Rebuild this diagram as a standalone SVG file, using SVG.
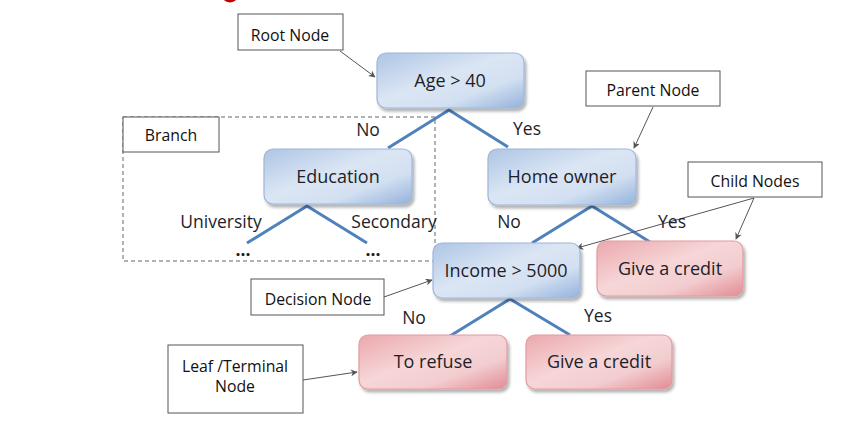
<svg xmlns="http://www.w3.org/2000/svg" width="862" height="428" viewBox="0 0 862 428">
<style>
text{font-family:"Open Sans","Noto Sans","Liberation Sans",sans-serif;fill:#1e1e28}
.nt{font-size:18px;text-anchor:middle}
.lb{font-size:15.8px;text-anchor:middle;fill:#111}
.el{font-size:17.5px;text-anchor:middle}
.lbox{fill:#fff;stroke:#555;stroke-width:1}
.blue{fill:url(#gb);stroke:#9db6d8;stroke-width:1.2}
.pink{fill:url(#gp);stroke:#e39aa0;stroke-width:1.2}
.edge{stroke:#4f81bd;stroke-width:3;fill:none}
.ptr{stroke:#555;stroke-width:1;fill:none;marker-end:url(#ah)}
</style>
<defs>
<linearGradient id="gb" x1="0" y1="0" x2="1" y2="1">
<stop offset="0" stop-color="#aec5e5"/>
<stop offset="0.45" stop-color="#dbe6f4"/>
<stop offset="0.7" stop-color="#d3e0f1"/>
<stop offset="1" stop-color="#93b2dc"/>
</linearGradient>
<linearGradient id="gp" x1="0" y1="0" x2="1" y2="1">
<stop offset="0" stop-color="#eba8ad"/>
<stop offset="0.45" stop-color="#f6d6d8"/>
<stop offset="0.7" stop-color="#f2cdd0"/>
<stop offset="1" stop-color="#e28b92"/>
</linearGradient>
<filter id="sh" x="-10%" y="-10%" width="125%" height="140%">
<feDropShadow dx="2" dy="3" stdDeviation="1.5" flood-color="#000" flood-opacity="0.3"/>
</filter>
<marker id="ah" viewBox="0 0 10 10" refX="9" refY="5" markerWidth="7" markerHeight="7" orient="auto" markerUnits="userSpaceOnUse">
<path d="M0,0 L10,5 L0,10 L3,5 z" fill="#555"/>
</marker>
</defs>
<rect width="862" height="428" fill="#fff"/>
<ellipse cx="230" cy="-9" rx="10" ry="11.5" fill="#c00000"/>

<rect id="branch-area" x="123" y="117" width="312" height="144" fill="none" stroke="#666" stroke-width="1" stroke-dasharray="4,3"/>

<g id="connectors">
<path class="edge" d="M388,148 L449,110 L508,147"/>
<path class="edge" d="M247,243 L307,206 L367,243"/>
<path class="edge" d="M532,243 L592,206 L650,242"/>
<path class="edge" d="M450,336 L510,299 L570,335"/>
<line class="ptr" x1="340" y1="51" x2="375" y2="77"/>
<line class="ptr" x1="653" y1="107" x2="634" y2="148"/>
<line class="ptr" x1="754" y1="198" x2="577" y2="248"/>
<line class="ptr" x1="754" y1="198" x2="736" y2="239"/>
<line class="ptr" x1="384" y1="297" x2="432" y2="280"/>
<line class="ptr" x1="303" y1="380" x2="357" y2="372"/>
</g>

<g id="edge-labels">
<text class="el" x="368" y="136">No</text>
<text class="el" x="527" y="135">Yes</text>
<text class="el" x="221" y="228">University</text>
<text class="el" x="394" y="228">Secondary</text>
<text class="el" x="243" y="256" font-weight="bold">...</text>
<text class="el" x="373" y="256" font-weight="bold">...</text>
<text class="el" x="509" y="228">No</text>
<text class="el" x="672" y="228">Yes</text>
<text class="el" x="414" y="324">No</text>
<text class="el" x="598" y="322">Yes</text>
</g>

<g id="node-age"><rect class="blue" filter="url(#sh)" x="377" y="53" width="147" height="55" rx="9"/><text class="nt" x="450" y="87">Age &gt; 40</text></g>
<g id="node-education"><rect class="blue" filter="url(#sh)" x="264" y="149" width="148" height="55" rx="9"/><text class="nt" x="338" y="183">Education</text></g>
<g id="node-homeowner"><rect class="blue" filter="url(#sh)" x="488" y="149" width="148" height="56" rx="9"/><text class="nt" x="562" y="183">Home owner</text></g>
<g id="node-income"><rect class="blue" filter="url(#sh)" x="433" y="243" width="147" height="55" rx="9"/><text class="nt" x="506" y="277">Income &gt; 5000</text></g>
<g id="node-credit1"><rect class="pink" filter="url(#sh)" x="597" y="241" width="146" height="55" rx="9"/><text class="nt" x="670" y="275">Give a credit</text></g>
<g id="node-refuse"><rect class="pink" filter="url(#sh)" x="359" y="335" width="148" height="54" rx="9"/><text class="nt" x="433" y="368">To refuse</text></g>
<g id="node-credit2"><rect class="pink" filter="url(#sh)" x="526" y="335" width="146" height="54" rx="9"/><text class="nt" x="599" y="368">Give a credit</text></g>

<g id="label-root"><rect class="lbox" x="238" y="14" width="105" height="36"/><text class="lb" x="290" y="41">Root Node</text></g>
<g id="label-branch"><rect class="lbox" x="123" y="117" width="96" height="35"/><text class="lb" x="171" y="141">Branch</text></g>
<g id="label-parent"><rect class="lbox" x="586" y="71" width="134" height="35"/><text class="lb" x="653" y="96">Parent Node</text></g>
<g id="label-child"><rect class="lbox" x="688" y="162" width="134" height="35"/><text class="lb" x="755" y="187">Child Nodes</text></g>
<g id="label-decision"><rect class="lbox" x="251" y="279" width="133" height="36"/><text class="lb" x="318" y="305">Decision Node</text></g>
<g id="label-leaf"><rect class="lbox" x="168" y="345" width="135" height="68"/><text class="lb" x="235" y="372">Leaf /Terminal</text><text class="lb" x="235" y="392">Node</text></g>
</svg>
